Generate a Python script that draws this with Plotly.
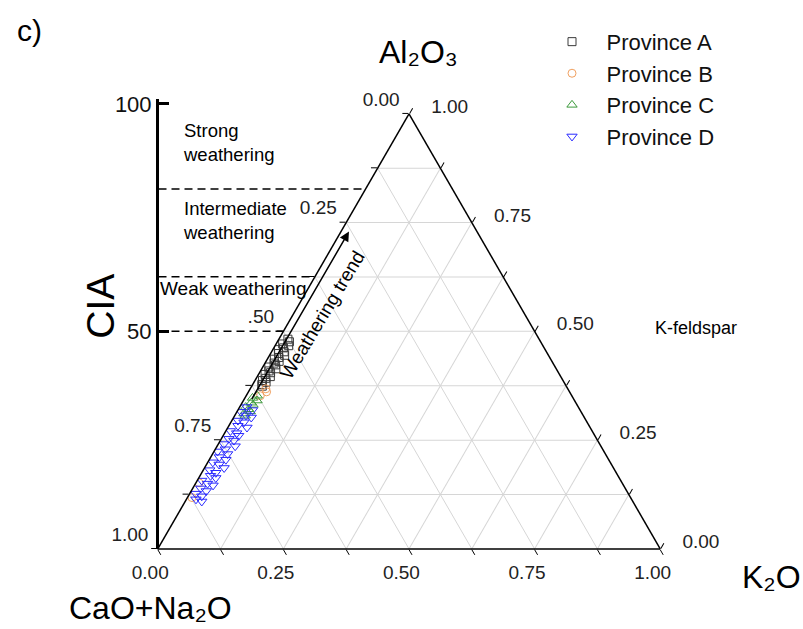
import plotly.graph_objects as go

# --- sample compositions (molar fractions, A = Al2O3, K = K2O; CN = CaO+Na2O closes the sum) ---
A_prov_a = [0.482, 0.476, 0.471, 0.467, 0.462, 0.458, 0.453, 0.449, 0.445, 0.440, 0.436, 0.431, 0.427,
            0.423, 0.418, 0.414, 0.409, 0.405, 0.401, 0.396, 0.392, 0.387, 0.383, 0.378, 0.374]
K_prov_a = [0.018, 0.024, 0.013, 0.027, 0.019, 0.011, 0.025, 0.016, 0.030, 0.021, 0.014, 0.026, 0.018,
            0.023, 0.012, 0.028, 0.017, 0.022, 0.013, 0.026, 0.019, 0.015, 0.024, 0.018, 0.021]

A_prov_b = [0.368, 0.361, 0.352, 0.152, 0.118]
K_prov_b = [0.031, 0.036, 0.028, 0.006, 0.009]

A_prov_c = [0.352, 0.347, 0.341, 0.336, 0.331, 0.326, 0.321, 0.316, 0.311, 0.306]
K_prov_c = [0.022, 0.015, 0.027, 0.018, 0.024, 0.012, 0.020, 0.026, 0.016, 0.021]

A_prov_d = [0.326, 0.319, 0.315, 0.307, 0.302, 0.295, 0.291, 0.283, 0.279, 0.271, 0.266, 0.260, 0.253,
            0.249, 0.241, 0.236, 0.229, 0.224, 0.218, 0.211, 0.205, 0.199, 0.194, 0.186, 0.181, 0.175,
            0.168, 0.163, 0.157, 0.150, 0.146, 0.139, 0.133, 0.127, 0.121, 0.114, 0.109]
K_prov_d = [0.014, 0.029, 0.008, 0.022, 0.035, 0.012, 0.026, 0.018, 0.038, 0.009, 0.024, 0.031, 0.015,
            0.027, 0.011, 0.036, 0.020, 0.007, 0.030, 0.017, 0.033, 0.010, 0.025, 0.039, 0.013, 0.028,
            0.021, 0.034, 0.009, 0.024, 0.037, 0.016, 0.030, 0.012, 0.027, 0.019, 0.033]

PROVINCES = ["Province A", "Province B", "Province C", "Province D"]

# ternary ticks (labels every 0.25, minor ticks/grid every 0.125)
TICK_VALS = [0.0, 0.125, 0.25, 0.375, 0.5, 0.625, 0.75, 0.875, 1.0]
LEFT_LABELS = ["1.00", "", "0.75", "", ".50", "", "0.25", "", "0.00"]     # CN along left edge
BOTTOM_LABELS = ["1.00", "", "0.75", "", "0.50", "", "0.25", "", "0.00"]  # K along bottom edge
RIGHT_LABELS = ["1.00", "", "0.75", "", "0.50", "", "0.25", "", "0.00"]   # A along right edge

# CIA scale and weathering class boundaries
CIA_TICKS = [50, 100]
CIA_BOUNDARIES = [81.3, 62.0, 50.0]

W, H = 803, 629
FONT = "Liberation Sans, Arial, sans-serif"
NB = "\u00a0"

# layout geometry (paper fractions)
TX0, TX1 = 155 / W, 663 / W
TY0, TY1 = (H - 548) / H, (H - 108) / H
CIA_DOM = [(H - 548) / H, (H - 93) / H]
CIA_RANGE = [2.17, 101.1]
CIA_X = 157 / W

fig = go.Figure()

styles = [
    dict(symbol="square-open", color="#3a3a3a", size=8),
    dict(symbol="circle-open", color="#f0a060", size=8),
    dict(symbol="triangle-up-open", color="#3c9a3c", size=9),
    dict(symbol="triangle-down-open", color="#2a2aff", size=9),
]
series = [(A_prov_a, K_prov_a), (A_prov_b, K_prov_b), (A_prov_c, K_prov_c), (A_prov_d, K_prov_d)]

for name, (a_vals, k_vals), st in zip(PROVINCES, series, styles):
    cn_vals = [round(1 - a - k, 4) for a, k in zip(a_vals, k_vals)]
    fig.add_trace(go.Scatterternary(
        a=a_vals, b=cn_vals, c=k_vals, name=name, mode="markers",
        marker=dict(symbol=st["symbol"], size=st["size"], color=st["color"],
                    line=dict(width=1, color=st["color"])),
    ))


def cia_to_paper(v):
    return CIA_DOM[0] + (v - CIA_RANGE[0]) / (CIA_RANGE[1] - CIA_RANGE[0]) * (CIA_DOM[1] - CIA_DOM[0])


# dashed weathering-class boundaries, from the CIA axis to the right edge of the triangle
for v in CIA_BOUNDARIES:
    a_level = (cia_to_paper(v) - TY0) / (TY1 - TY0)
    x_edge = TX0 + (1 - a_level / 2) * (TX1 - TX0)
    fig.add_trace(go.Scatter(
        x=[CIA_X + 1.5 / W, x_edge], y=[v, v], mode="lines", showlegend=False, hoverinfo="skip",
        line=dict(color="black", width=1.5, dash="8px,5px"), xaxis="x", yaxis="y",
    ))

axis_common = dict(
    tickmode="array", tickvals=TICK_VALS, ticks="outside", ticklen=6, tickwidth=1.2,
    tickcolor="black", showline=True, linecolor="black", linewidth=1.5,
    showgrid=True, gridcolor="#d6d6d6", gridwidth=1, min=0,
    tickfont=dict(family=FONT, size=19, color="#222222"), title=dict(text=""),
)

# left labels sit a little above their ticks, right labels a little further out,
# bottom labels slightly left of their ticks
left_text = [t + "<br>" + NB if t else "" for t in LEFT_LABELS]
right_text = [NB * 3 + t if t else "" for t in RIGHT_LABELS]
bottom_text = [t + NB * 4 if t else "" for t in BOTTOM_LABELS]

fig.update_layout(
    width=W, height=H, margin=dict(l=0, r=0, t=0, b=0),
    paper_bgcolor="white", plot_bgcolor="rgba(0,0,0,0)",
    font=dict(family=FONT, color="black"),
    ternary=dict(
        domain=dict(x=[TX0, TX1], y=[TY0, TY1]), sum=1, bgcolor="white",
        aaxis=dict(axis_common, ticktext=left_text),
        baxis=dict(axis_common, ticktext=bottom_text),
        caxis=dict(axis_common, ticktext=right_text),
    ),
    xaxis=dict(domain=[0, 1], range=[0, 1], visible=False, fixedrange=True),
    yaxis=dict(domain=CIA_DOM, range=CIA_RANGE, anchor="free", position=CIA_X, side="left",
               showline=True, linecolor="black", linewidth=3, showgrid=False, zeroline=False,
               tickmode="array", tickvals=CIA_TICKS, ticks="inside", ticklen=10, tickwidth=3,
               tickcolor="black", tickfont=dict(family=FONT, size=22, color="#111111"),
               fixedrange=True),
    legend=dict(x=537.5 / W, y=1 - 14 / H, xanchor="left", yanchor="top",
                font=dict(family=FONT, size=22, color="#111111"), bgcolor="rgba(0,0,0,0)",
                itemwidth=59, tracegroupgap=0),
    showlegend=True,
)


def note(text, x, y, size, xanchor="center", angle=0, align="center"):
    fig.add_annotation(text=text, x=x / W, y=1 - y / H, xref="paper", yref="paper",
                       showarrow=False, xanchor=xanchor, yanchor="middle", align=align,
                       textangle=angle, font=dict(family=FONT, size=size, color="black"))


note("c)", 30, 24, 30)
note("Al₂O₃", 418, 46, 32)
note("CaO+Na₂O", 150, 608, 32)
note("K₂O", 771, 576, 32)
note("CIA", 101, 303, 39, angle=-90)
note("Strong<br>weathering", 181, 137, 18.5, xanchor="left", align="left")
note("Intermediate<br>weathering", 181, 216, 18.5, xanchor="left", align="left")
note("Weak weathering", 158, 285, 19, xanchor="left", align="left")
note("K-feldspar", 653, 325, 18, xanchor="left", align="left")
note("Weathering trend", 322, 312, 19, angle=-59)

# weathering trend arrow
fig.add_annotation(x=349 / W, y=1 - 227 / H, xref="paper", yref="paper", text="",
                   showarrow=True, ax=-98, ay=169, axref="pixel", ayref="pixel",
                   arrowhead=2, arrowsize=1.3, arrowwidth=1.5, arrowcolor="black", standoff=0)

fig.write_html("out.html")
